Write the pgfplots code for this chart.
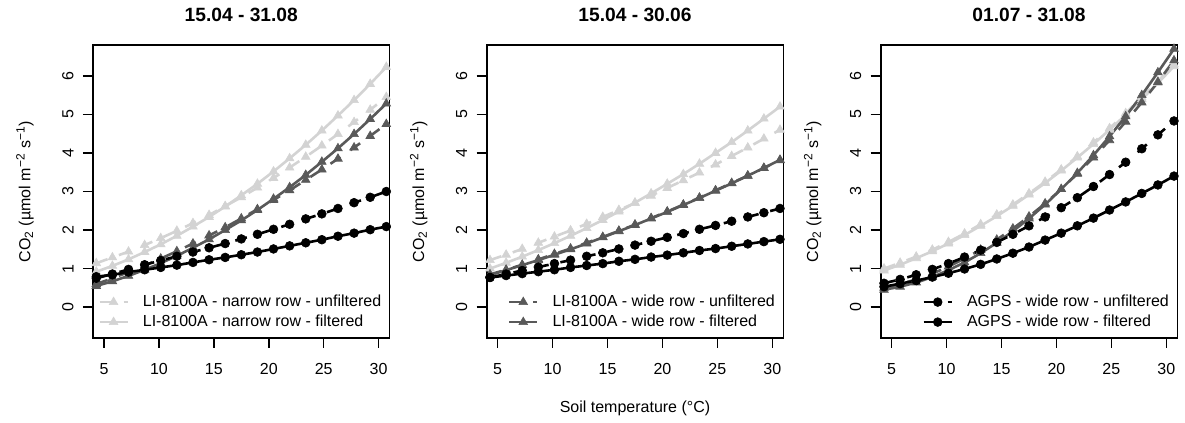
\documentclass[border=0pt]{standalone}
\usepackage{fontspec}
\setmainfont{Liberation Sans}
\usepackage{pgfplots}
\usepackage{pgfplotstable}
\pgfplotsset{compat=1.18}
\definecolor{lightg}{RGB}{211,211,211}
\definecolor{darkg}{RGB}{89,89,89}

\pgfplotstableread{
T nu nf wu wf au af
4.3    1.14 0.92 0.60 0.55 0.75 0.79
5.767  1.29 1.07 0.75 0.67 0.86 0.84
7.233  1.44 1.24 0.91 0.81 0.98 0.91
8.7    1.61 1.43 1.08 0.97 1.10 0.97
10.167 1.79 1.63 1.26 1.14 1.21 1.03
11.633 1.98 1.85 1.45 1.33 1.32 1.09
13.1   2.18 2.09 1.65 1.54 1.43 1.16
14.567 2.39 2.34 1.86 1.76 1.54 1.23
16.033 2.62 2.61 2.07 2.00 1.65 1.29
17.5   2.85 2.90 2.30 2.25 1.77 1.36
18.967 3.10 3.20 2.54 2.52 1.89 1.43
20.433 3.35 3.52 2.78 2.81 2.02 1.51
21.9   3.62 3.86 3.03 3.11 2.15 1.59
23.367 3.90 4.21 3.30 3.43 2.29 1.67
24.833 4.19 4.58 3.57 3.77 2.42 1.75
26.3   4.49 4.97 3.85 4.12 2.56 1.84
27.767 4.80 5.37 4.14 4.49 2.71 1.92
29.233 5.12 5.79 4.44 4.88 2.85 2.01
30.7   5.45 6.23 4.75 5.28 3.00 2.09
}\tabA

\pgfplotstableread{
T nu nf wu wf au af
4.3    1.22 1.00 0.85 0.83 0.77 0.77
5.767  1.36 1.15 0.97 0.96 0.86 0.82
7.233  1.51 1.31 1.10 1.09 0.95 0.87
8.7    1.67 1.48 1.24 1.22 1.04 0.92
10.167 1.83 1.66 1.38 1.36 1.13 0.97
11.633 1.99 1.85 1.52 1.50 1.22 1.03
13.1   2.16 2.05 1.67 1.65 1.32 1.08
14.567 2.34 2.26 1.82 1.81 1.41 1.13
16.033 2.52 2.48 1.98 1.97 1.51 1.19
17.5   2.70 2.71 2.14 2.13 1.61 1.24
18.967 2.89 2.95 2.31 2.30 1.71 1.30
20.433 3.09 3.20 2.48 2.47 1.81 1.35
21.9   3.29 3.45 2.66 2.65 1.91 1.41
23.367 3.49 3.72 2.84 2.83 2.02 1.47
24.833 3.70 4.00 3.03 3.02 2.12 1.52
26.3   3.92 4.28 3.22 3.21 2.23 1.58
27.767 4.14 4.58 3.41 3.41 2.34 1.64
29.233 4.37 4.89 3.61 3.61 2.45 1.70
30.7   4.60 5.20 3.81 3.82 2.56 1.76
}\tabB

\pgfplotstableread{
T nu nf wu wf au af
4.3    1.00 0.95 0.50 0.45 0.62 0.53
5.767  1.15 1.10 0.60 0.53 0.72 0.61
7.233  1.31 1.27 0.72 0.64 0.84 0.69
8.7    1.49 1.45 0.87 0.78 0.98 0.78
10.167 1.69 1.65 1.05 0.96 1.13 0.88
11.633 1.91 1.87 1.26 1.16 1.30 0.99
13.1   2.15 2.11 1.49 1.40 1.48 1.11
14.567 2.40 2.36 1.75 1.67 1.68 1.25
16.033 2.66 2.63 2.04 1.97 1.89 1.40
17.5   2.95 2.92 2.35 2.30 2.11 1.56
18.967 3.25 3.22 2.69 2.66 2.34 1.74
20.433 3.57 3.54 3.06 3.06 2.58 1.92
21.9   3.91 3.88 3.46 3.48 2.84 2.11
23.367 4.27 4.23 3.88 3.94 3.13 2.31
24.833 4.64 4.60 4.33 4.43 3.44 2.52
26.3   5.03 4.99 4.81 4.95 3.76 2.73
27.767 5.44 5.39 5.31 5.50 4.11 2.95
29.233 5.86 5.81 5.84 6.09 4.47 3.17
30.7   6.30 6.25 6.40 6.70 4.83 3.40
}\tabC

\pgfplotsset{
  rstyle/.style={
    scale only axis, width=148.3pt, height=146.5pt,
    xmin=4, xmax=31, ymin=-0.8, ymax=6.8,
    xtick={5,10,...,30}, ytick={0,...,6},
    tick align=outside, tick pos=left, major tick length=5pt,
    axis line style={line width=0.8pt},
    every tick/.style={line width=0.8pt, black},
    ticklabel style={font=\fontsize{8}{9.6}\selectfont},
    /pgf/number format/assume math mode=true,
    yticklabel style={rotate=90, anchor=south},
    xticklabel shift=4pt, yticklabel shift=1.2pt,
    legend style={draw=none, fill=none, at={(1,0)}, anchor=south east,
      xshift=-3pt, yshift=3pt, inner sep=0pt, row sep=0.5pt,
      font=\fontsize{8}{9.6}\selectfont,
      nodes={inner sep=1pt, text height=6pt, text depth=1.5pt}},
    legend cell align=left,
    legend image code/.code={\draw[mark repeat=2,mark phase=2,##1] plot coordinates {(0pt,0pt) (7pt,0pt) (14pt,0pt)}; \path (20pt,0pt);},
    every axis plot/.append style={line width=1.3pt},
    clip=false,
  },
  dsh/.style={dash pattern=on 6pt off 6pt},
  tri/.style={mark=triangle*, mark size=2.5pt, mark options={solid, line width=0.3pt}},
  circ/.style={mark=*, mark size=2.2pt, mark options={solid, line width=0.3pt}},
}

\begin{document}
\begin{tikzpicture}
\useasboundingbox (-46.5pt,-42.5pt) rectangle (546pt,169pt);

% Panel 1
\begin{axis}[rstyle, name=p1, at={(0pt,0pt)}, anchor=south west]
\addplot[lightg, dsh, tri] table[x=T, y=nu] {\tabA};
\addlegendentry{LI-8100A - narrow row - unfiltered}
\addplot[lightg, tri] table[x=T, y=nf] {\tabA};
\addlegendentry{LI-8100A - narrow row - filtered}
\addplot[darkg, dsh, tri, forget plot] table[x=T, y=wu] {\tabA};
\addplot[darkg, tri, forget plot] table[x=T, y=wf] {\tabA};
\addplot[black, dsh, circ, forget plot] table[x=T, y=au] {\tabA};
\addplot[black, circ, forget plot] table[x=T, y=af] {\tabA};
\end{axis}

% Panel 2
\begin{axis}[rstyle, name=p2, at={(196.85pt,0pt)}, anchor=south west]
\addplot[lightg, dsh, tri, forget plot] table[x=T, y=nu] {\tabB};
\addplot[lightg, tri, forget plot] table[x=T, y=nf] {\tabB};
\addplot[darkg, dsh, tri] table[x=T, y=wu] {\tabB};
\addlegendentry{LI-8100A - wide row - unfiltered}
\addplot[darkg, tri] table[x=T, y=wf] {\tabB};
\addlegendentry{LI-8100A - wide row - filtered}
\addplot[black, dsh, circ, forget plot] table[x=T, y=au] {\tabB};
\addplot[black, circ, forget plot] table[x=T, y=af] {\tabB};
\end{axis}

% Panel 3
\begin{axis}[rstyle, name=p3, at={(393.85pt,0pt)}, anchor=south west]
\addplot[lightg, dsh, tri, forget plot] table[x=T, y=nu] {\tabC};
\addplot[lightg, tri, forget plot] table[x=T, y=nf] {\tabC};
\addplot[darkg, dsh, tri, forget plot] table[x=T, y=wu] {\tabC};
\addplot[darkg, tri, forget plot] table[x=T, y=wf] {\tabC};
\addplot[black, dsh, circ] table[x=T, y=au] {\tabC};
\addlegendentry{AGPS - wide row - unfiltered}
\addplot[black, circ] table[x=T, y=af] {\tabC};
\addlegendentry{AGPS - wide row - filtered}
\end{axis}

\foreach \p/\t in {p1/15.04 - 31.08, p2/15.04 - 30.06, p3/01.07 - 31.08} {
  \node[font=\bfseries\fontsize{9.6}{11.5}\selectfont] at ([yshift=15pt]\p.north) {\t};
  \node[rotate=90, font=\fontsize{8}{9.6}\selectfont] at ([xshift=-34pt]\p.west)
    {CO\textsubscript{2} (µmol m\textsuperscript{−2} s\textsuperscript{−1})};
}
\node[font=\fontsize{8}{9.6}\selectfont] at ([yshift=-35pt]p2.south) {Soil temperature (°C)};
\end{tikzpicture}
\end{document}
